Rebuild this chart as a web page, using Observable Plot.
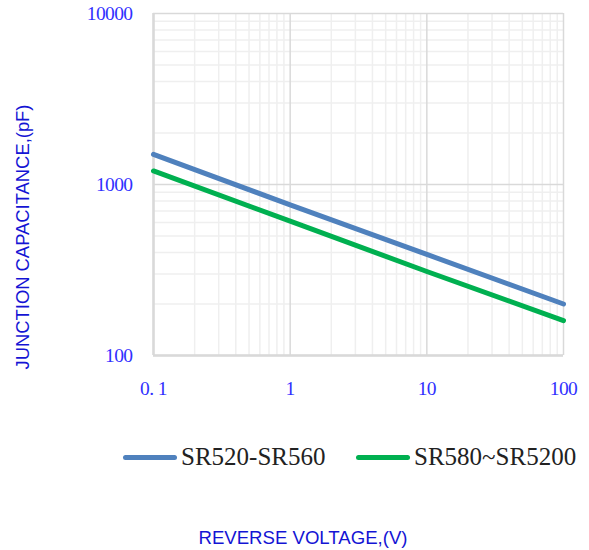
<!DOCTYPE html>
<html>
<head>
<meta charset="utf-8">
<script src="https://cdn.jsdelivr.net/npm/d3@7"></script>
<script src="https://cdn.jsdelivr.net/npm/@observablehq/plot@0.6"></script>
<style>
  body { margin: 0; background: #fff; }
  #wrap { position: relative; width: 589px; height: 550px; overflow: hidden; }
  #chart { position: absolute; left: 0; top: 0; }
  #chart svg g[aria-label$="tick label"] { font-size: 19.5px; letter-spacing: -0.6px; }
  .ytitle { position: absolute; left: 23px; top: 236.5px; transform: translate(-50%, -50%) rotate(-90deg);
            font-family: "Liberation Sans", Arial, sans-serif; font-size: 18.4px; color: #1414d4; white-space: nowrap; }
  .xtitle { position: absolute; left: 303px; top: 538px; transform: translate(-50%, -50%);
            font-family: "Liberation Sans", Arial, sans-serif; font-size: 18.6px; color: #1414d4; white-space: nowrap; }
  .leg { position: absolute; top: 457px; transform: translateY(-50%); display: flex; align-items: center;
         font-family: "Liberation Serif", "DejaVu Serif", serif; font-size: 25px; color: #222; white-space: nowrap; }
  .sw { width: 54px; height: 5px; border-radius: 3px; margin-right: 4px; }
</style>
</head>
<body>
<div id="wrap">
  <div id="chart"></div>
  <div class="ytitle" id="ytitle"></div>
  <div class="xtitle" id="xtitle"></div>
  <div class="leg" id="leg0" style="left:123px"></div>
  <div class="leg" id="leg1" style="left:356px"></div>
</div>
<script>
// ---- data ----
const voltage = [0.1, 1, 10, 100];
const seriesNames = ["SR520-SR560", "SR580~SR5200"];
const capSR520 = [1500, 760, 390, 200];
const capSR580 = [1200, 610, 310, 160];
const seriesColors = ["#4f81bd", "#00b050"];
const xTickValues = [0.1, 1, 10, 100];
const xTickLabels = ["0. 1", "1", "10", "100"];
const yTickValues = [100, 1000, 10000];
const yTickLabels = ["100", "1000", "10000"];
const xTitle = "REVERSE VOLTAGE,(V)";
const yTitle = "JUNCTION CAPACITANCE,(pF)";

// minor gridlines
const xMinor = [];
[0.1, 1, 10].forEach(d => { for (let k = 2; k <= 9; k++) xMinor.push(d * k); });
const yMinor = [];
[100, 1000].forEach(d => { for (let k = 2; k <= 9; k++) yMinor.push(d * k); });

const rows = [];
voltage.forEach((v, i) => {
  rows.push({ v, c: capSR520[i], s: seriesNames[0] });
});
voltage.forEach((v, i) => {
  rows.push({ v, c: capSR580[i], s: seriesNames[1] });
});

const tickColor = "#3030ff";
const tickFont = "\"Liberation Serif\", \"DejaVu Serif\", serif";

const chart = Plot.plot({
  width: 589,
  height: 410,
  marginLeft: 153,
  marginRight: 26,
  marginTop: 13,
  marginBottom: 55,
  style: { background: "transparent", fontFamily: tickFont, fontSize: "19.5px", color: tickColor },
  x: { type: "log", domain: [0.1, 100], label: null },
  y: { type: "log", domain: [100, 10000], label: null },
  color: { domain: seriesNames, range: seriesColors },
  marks: [
    Plot.ruleX(xMinor, { stroke: "#efefef", strokeWidth: 1.5 }),
    Plot.ruleY(yMinor, { stroke: "#efefef", strokeWidth: 1.5 }),
    Plot.ruleX(xTickValues, { stroke: "#d9d9d9", strokeWidth: 1.5 }),
    Plot.ruleY(yTickValues, { stroke: "#d9d9d9", strokeWidth: 1.5 }),
    Plot.ruleX([xTickValues[0]], { stroke: "#d9d9d9", strokeWidth: 2.5 }),
    Plot.ruleY([yTickValues[0]], { stroke: "#d9d9d9", strokeWidth: 2.5 }),
    Plot.line(rows, { x: "v", y: "c", z: "s", stroke: "s", strokeWidth: 5 }),
    Plot.axisX({ ticks: xTickValues, tickFormat: (d) => xTickLabels[xTickValues.indexOf(d)], tickSize: 0, tickPadding: 26, fill: tickColor, label: null }),
    Plot.axisY({ ticks: yTickValues, tickFormat: (d) => yTickLabels[yTickValues.indexOf(d)], tickSize: 0, tickPadding: 21, fill: tickColor, label: null })
  ]
});
document.getElementById("chart").appendChild(chart);
document.getElementById("ytitle").textContent = yTitle;
document.getElementById("xtitle").textContent = xTitle;
seriesNames.forEach((name, i) => {
  const el = document.getElementById("leg" + i);
  const sw = document.createElement("div");
  sw.className = "sw";
  sw.style.background = seriesColors[i];
  el.appendChild(sw);
  const t = document.createElement("span");
  t.textContent = name;
  el.appendChild(t);
});
</script>
</body>
</html>
